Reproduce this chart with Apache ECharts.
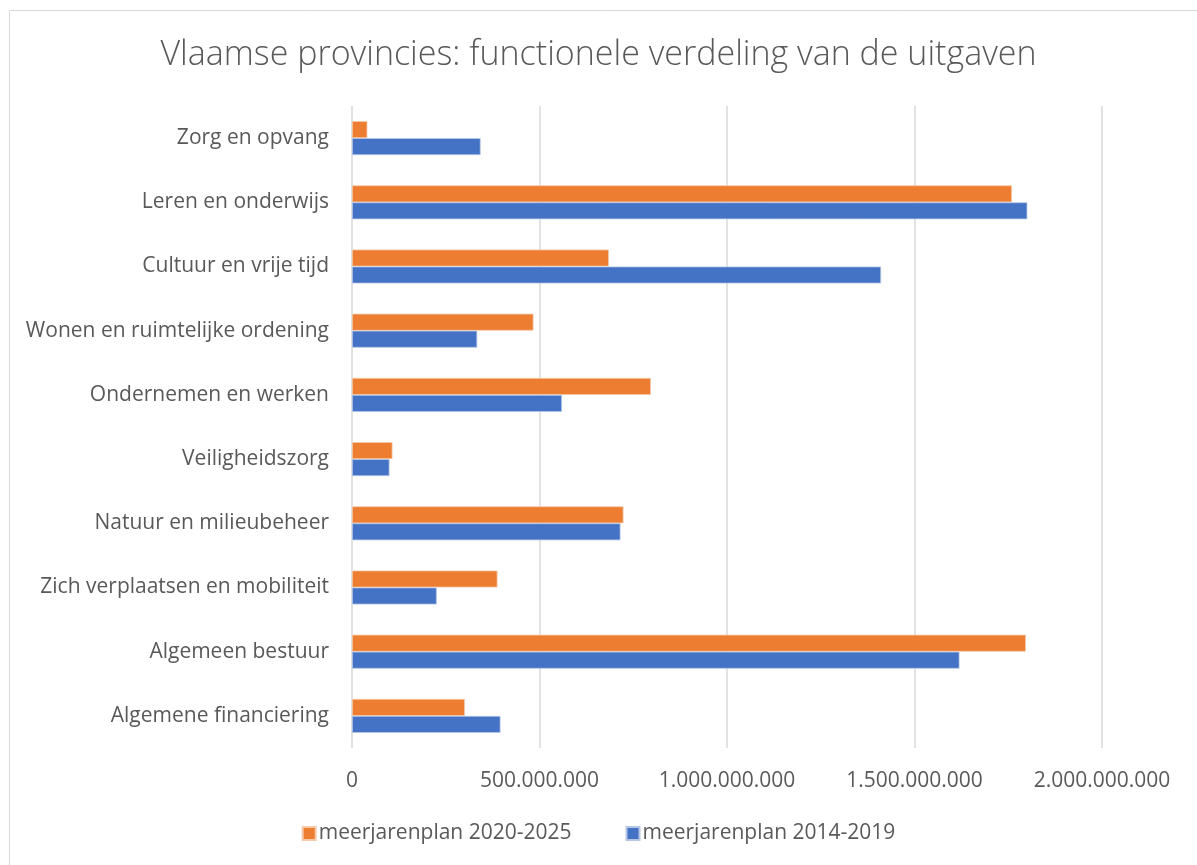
<!DOCTYPE html>
<html>
<head>
<meta charset="utf-8">
<script src="https://cdn.jsdelivr.net/npm/echarts@6/dist/echarts.min.js"></script>
<style>
  html, body { margin: 0; padding: 0; background: #fff; }
  #chart { width: 1197px; height: 865px; }
</style>
</head>
<body>
<div id="chart"></div>
<script>
// categories top to bottom
const categories = [
  'Zorg en opvang',
  'Leren en onderwijs',
  'Cultuur en vrije tijd',
  'Wonen en ruimtelijke ordening',
  'Ondernemen en werken',
  'Veiligheidszorg',
  'Natuur en milieubeheer',
  'Zich verplaatsen en mobiliteit',
  'Algemeen bestuur',
  'Algemene financiering'
]
const plan2020 = [41e6, 1760e6, 685e6, 484e6, 797e6, 108e6, 724e6, 388e6, 1797e6, 301e6]
const plan2014 = [343e6, 1801e6, 1411e6, 334e6, 560e6, 100e6, 716e6, 226e6, 1620e6, 396e6]
const seriesNames = ['meerjarenplan 2020-2025', 'meerjarenplan 2014-2019']

const FONT = '"Open Sans", Lato, sans-serif'
const TXT = '#595959'

function fmt(v) {
  return String(Math.round(v)).replace(/\B(?=(\d{3})+(?!\d))/g, '.')
}

const chart = echarts.init(document.getElementById('chart'), null, { renderer: 'canvas' })

chart.setOption({
  backgroundColor: '#fff',
  animation: false,
  textStyle: { fontFamily: FONT, color: TXT },
  title: {
    text: 'Vlaamse provincies: functionele verdeling van de uitgaven',
    left: 'center', top: 33,
    textStyle: { fontFamily: FONT, fontSize: 34, fontWeight: 300, color: TXT },
  },
  graphic: [{
    type: 'rect', left: 7, top: 8, silent: true,
    shape: { width: 1200, height: 870 },
    style: { fill: 'none', stroke: '#d9d9d9', lineWidth: 1 },
  }],
  legend: {
    data: seriesNames,
    left: 'center', top: 818,
    itemWidth: 13, itemHeight: 13, itemGap: 54,
    icon: 'rect',
    textStyle: { fontFamily: FONT, fontSize: 21, color: TXT, padding: [0, 0, 0, -2] },
  },
  grid: { left: 352, right: 95, top: 106, bottom: 117, containLabel: false },
  xAxis: {
    type: 'value', min: 0, max: 2000000000, interval: 500000000,
    axisLine: { show: false }, axisTick: { show: false },
    axisLabel: { color: TXT, fontSize: 21, fontFamily: FONT, margin: 23, formatter: fmt },
    splitLine: { show: true, lineStyle: { color: '#d9d9d9', width: 1.5 } },
  },
  yAxis: {
    type: 'category', data: categories, inverse: true,
    axisLine: { show: false }, axisTick: { show: false },
    axisLabel: { color: TXT, fontSize: 21, fontFamily: FONT, margin: 23, padding: [4, 0, 0, 0] },
  },
  series: [
    {
      name: seriesNames[0], type: 'bar', data: plan2020,
      barWidth: 17, barGap: '0%',
      itemStyle: { color: '#ED7D31', borderColor: '#f6c9a8', borderWidth: 0.8 },
    },
    {
      name: seriesNames[1], type: 'bar', data: plan2014,
      barWidth: 17, barGap: '0%',
      itemStyle: { color: '#4472C4', borderColor: '#b5c6e6', borderWidth: 0.8 },
    },
  ],
})
</script>
</body>
</html>
